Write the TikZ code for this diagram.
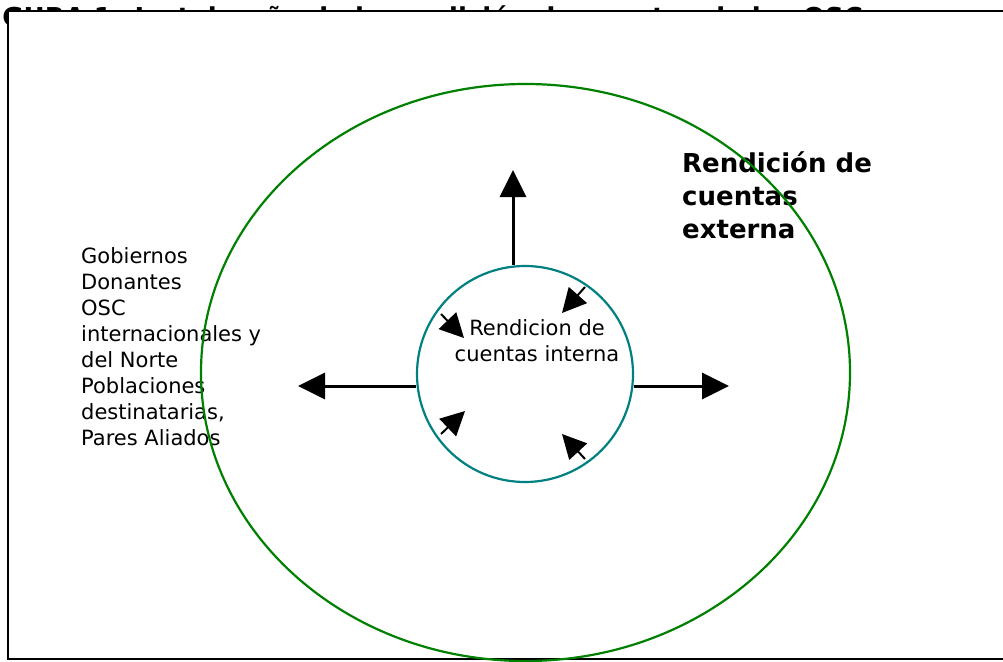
\documentclass[tikz,border=0pt]{standalone}
\usepackage{fontspec}
\setmainfont{DejaVu Sans}
\usetikzlibrary{arrows.meta,shapes.geometric,positioning}
\definecolor{verde}{RGB}{0,128,0}
\definecolor{turquesa}{RGB}{0,128,128}
\tikzset{/rc/texto/.style={inner sep=0pt, align=left, font=\fontsize{21}{26}\selectfont}}
\tikzset{/rc/titulo/.style={inner sep=0pt, font=\fontsize{26}{33}\selectfont\bfseries}}
\tikzset{/rc/flecha/.style={line width=3pt, -{Triangle[length=27pt,width=26pt]}}}
\tikzset{/rc/flechita/.style={line width=2pt, -{Triangle[length=24pt,width=24pt]}}}
\begin{document}
\begin{tikzpicture}[x=1pt,y=-1pt]
		\useasboundingbox (0,0) rectangle (1003,661);
		% title, mostly hidden under the frame
		\node[/rc/titulo, anchor=base east] (titulo) at (863,26.5) {FIGURA 1: La telaraña de la rendición de cuentas de las OSC};
		\draw[line width=2.5pt, fill=white] (8,11) rectangle (1012,659);
		% texts
		\node[/rc/texto, anchor=north west] (actores) at (81,247) {Gobiernos\\Donantes\\OSC\\internacionales y\\del Norte\\Poblaciones\\destinatarias,\\Pares Aliados};
		\node[/rc/texto, align=center, anchor=north] (nombreint) at (537,319) {Rendicion de\\cuentas interna};
		\node[/rc/titulo, align=left, anchor=north west] (nombreext) at (682,152) {Rendición de\\cuentas\\externa};
		% circles
		\node[ellipse, draw=verde, line width=2.2pt, minimum width=649pt, minimum height=577pt, inner sep=0pt] (externa) at (525.5,372.5) {};
		\node[circle, draw=turquesa, line width=2.2pt, minimum size=216pt, inner sep=0pt] (interna) at (525,374) {};
		% outward arrows
		\coordinate (arriba) at (513,170);
		\coordinate (izq) at (298,386);
		\coordinate (der) at (729,386);
		\draw[/rc/flecha] (interna.north -| arriba) -- (arriba);
		\draw[/rc/flecha] (interna.west |- izq) -- (izq);
		\draw[/rc/flecha] (interna.east |- der) -- (der);
		% inner arrows
		\foreach \i/\xa/\ya/\xb/\yb in {1/441/314/464/338, 2/585/287/562/313, 3/441/434/465/411, 4/585/459/562/434} {
			\coordinate (cola\i) at (\xa,\ya);
			\coordinate (punta\i) at (\xb,\yb);
			\draw[/rc/flechita] (cola\i) -- (punta\i);
		}
	\end{tikzpicture}
\end{document}
